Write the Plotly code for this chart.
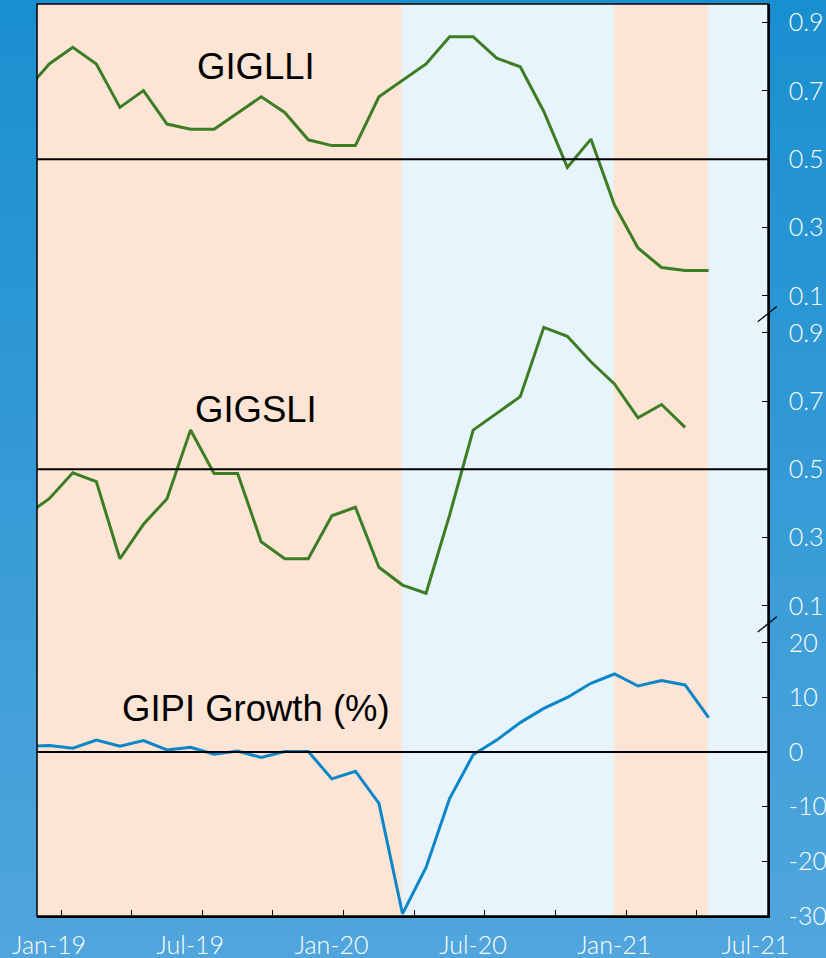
import plotly.graph_objects as go

# monthly observations, Dec-18 is partly hidden behind the left edge
months = ["Dec-18", "Jan-19", "Feb-19", "Mar-19", "Apr-19", "May-19", "Jun-19",
          "Jul-19", "Aug-19", "Sep-19", "Oct-19", "Nov-19", "Dec-19",
          "Jan-20", "Feb-20", "Mar-20", "Apr-20", "May-20", "Jun-20",
          "Jul-20", "Aug-20", "Sep-20", "Oct-20", "Nov-20", "Dec-20",
          "Jan-21", "Feb-21", "Mar-21", "Apr-21", "May-21"]

gigllI = [0.70, 0.779, 0.828, 0.779, 0.652, 0.701, 0.603, 0.588, 0.588, 0.635,
          0.683, 0.637, 0.557, 0.540, 0.540, 0.683, 0.730, 0.779, 0.859, 0.859,
          0.796, 0.771, 0.640, 0.476, 0.559, 0.366, 0.240, 0.183, 0.174, 0.174]

gigsli = [0.365, 0.414, 0.490, 0.464, 0.238, 0.339, 0.414, 0.615, 0.488, 0.488,
          0.288, 0.238, 0.238, 0.364, 0.389, 0.213, 0.161, 0.137, 0.366, 0.615,
          0.664, 0.713, 0.916, 0.890, 0.815, 0.750, 0.651, 0.690, 0.623, None]

gipi = [1.0, 1.2, 0.7, 2.2, 1.1, 2.1, 0.4, 0.9, -0.4, 0.2,
        -1.0, 0.1, 0.1, -4.9, -3.5, -9.4, -29.6, -21.1, -8.5, -0.5,
        2.2, 5.4, 8.0, 10.0, 12.6, 14.3, 12.1, 13.1, 12.3, 6.3]

# phase changes for the shaded background
phase_breaks = ["Apr-20", "Jan-21", "May-21"]
phase_colors = ["#FDE5D6", "#E8F4FB", "#FDE5D6", "#E8F4FB"]

tick_labels = ["Jan-19", "", "Jul-19", "", "Jan-20", "", "Jul-20", "",
               "Jan-21", "", "Jul-21"]
lead_ticks = [0.1, 0.3, 0.5, 0.7, 0.9]
gipi_ticks = [-30, -20, -10, 0, 10, 20]

# x = months since Jan-19
x = [months.index(m) - 1 for m in months]
xmin, xmax = -0.52, 30.52

green = "#3D7D24"
blue = "#0B86C8"

fig = go.Figure()
fig.add_trace(go.Scatter(x=x, y=gigllI, mode="lines", line=dict(color=green, width=3),
                         xaxis="x", yaxis="y"))
fig.add_trace(go.Scatter(x=x, y=gigsli, mode="lines", line=dict(color=green, width=3),
                         xaxis="x", yaxis="y2"))
fig.add_trace(go.Scatter(x=x, y=gipi, mode="lines", line=dict(color=blue, width=3),
                         xaxis="x", yaxis="y3"))

shapes = []

# backdrop: rough blue gradient behind everything
n = 30
c0 = (26, 143, 208)
c1 = (80, 166, 220)
for i in range(n):
    t = i / (n - 1)
    col = "rgb(%d,%d,%d)" % tuple(round(a + (b - a) * t) for a, b in zip(c0, c1))
    shapes.append(dict(type="rect", xref="paper", yref="paper", layer="below",
                       x0=-0.06, x1=1.09, y0=1.01 - (i + 1) * 1.07 / n,
                       y1=1.01 - i * 1.07 / n + 0.002,
                       fillcolor=col, line=dict(width=0)))

# shaded phases (slight overlap so no seams show)
edges = [xmin] + [months.index(m) - 1 for m in phase_breaks] + [xmax]
for i in range(len(edges) - 1):
    shapes.append(dict(type="rect", xref="x", yref="paper", layer="below",
                       x0=edges[i] - (0.03 if i else 0), x1=edges[i + 1], y0=0, y1=1,
                       fillcolor=phase_colors[i], line=dict(width=0)))

# reference lines
for yr, yv in [("y", 0.5), ("y2", 0.5), ("y3", 0)]:
    shapes.append(dict(type="line", xref="paper", yref=yr, x0=0, x1=1, y0=yv, y1=yv,
                       line=dict(color="black", width=2)))

# frame
shapes.append(dict(type="rect", xref="paper", yref="paper", x0=0, x1=1, y0=0, y1=1,
                   line=dict(color="black", width=1.5)))

# axis break marks
for yb in [0.6517, 0.3115]:
    shapes.append(dict(type="line", xref="paper", yref="paper",
                       x0=0.986, x1=1.012, y0=yb, y1=yb + 0.0165,
                       line=dict(color="black", width=1.3)))

fig.update_layout(shapes=shapes)

tickfont = dict(family="Lato, Open Sans, sans-serif", size=25, color="white", weight=300)
yax = dict(side="right", anchor="x", ticks="inside", ticklen=6, tickcolor="black",
           ticklabelstandoff=14, showline=True, linecolor="black", linewidth=1.5,
           showgrid=False, zeroline=False, tickfont=tickfont, automargin=False)

fig.update_layout(
    width=826, height=958,
    margin=dict(l=37, r=58, t=4, b=42),
    paper_bgcolor="#2796D4",
    plot_bgcolor="rgba(0,0,0,0)",
    showlegend=False,
    xaxis=dict(range=[xmin, xmax], anchor="y3", automargin=False,
               tickmode="array", tickvals=[0.5 + 3 * i for i in range(11)],
               ticktext=tick_labels, ticks="inside", ticklen=6, tickwidth=1.2,
               tickcolor="black", ticklabelshift=-12, ticklabelstandoff=6,
               showline=True, linecolor="black", linewidth=1.5,
               showgrid=False, zeroline=False, tickfont=tickfont),
    yaxis=dict(domain=[0.6605, 1], range=[0.0479, 0.9547],
               tickvals=lead_ticks, ticktext=["%.1f" % v for v in lead_ticks], **yax),
    yaxis2=dict(domain=[0.32, 0.6605], range=[0.0464, 0.9562],
                tickvals=lead_ticks, ticktext=["%.1f" % v for v in lead_ticks], **yax),
    yaxis3=dict(domain=[0, 0.32], range=[-30, 23.42],
                tickvals=gipi_ticks, ticktext=[str(v) for v in gipi_ticks], **yax),
)

labelfont = dict(family="Liberation Sans, Arial, sans-serif", size=36.5, color="black")
for text, ypos in [("GIGLLI", 0.932), ("GIGSLI", 0.555), ("GIPI Growth (%)", 0.2278)]:
    fig.add_annotation(text=text, xref="paper", yref="paper", x=0.3, y=ypos,
                       xanchor="center", yanchor="middle", showarrow=False,
                       font=labelfont)

# page body has an 8px default margin; drop it so the figure sits at the corner
fig.write_html("out.html", config={"displayModeBar": False},
               post_script="document.body.style.margin='0px';")
